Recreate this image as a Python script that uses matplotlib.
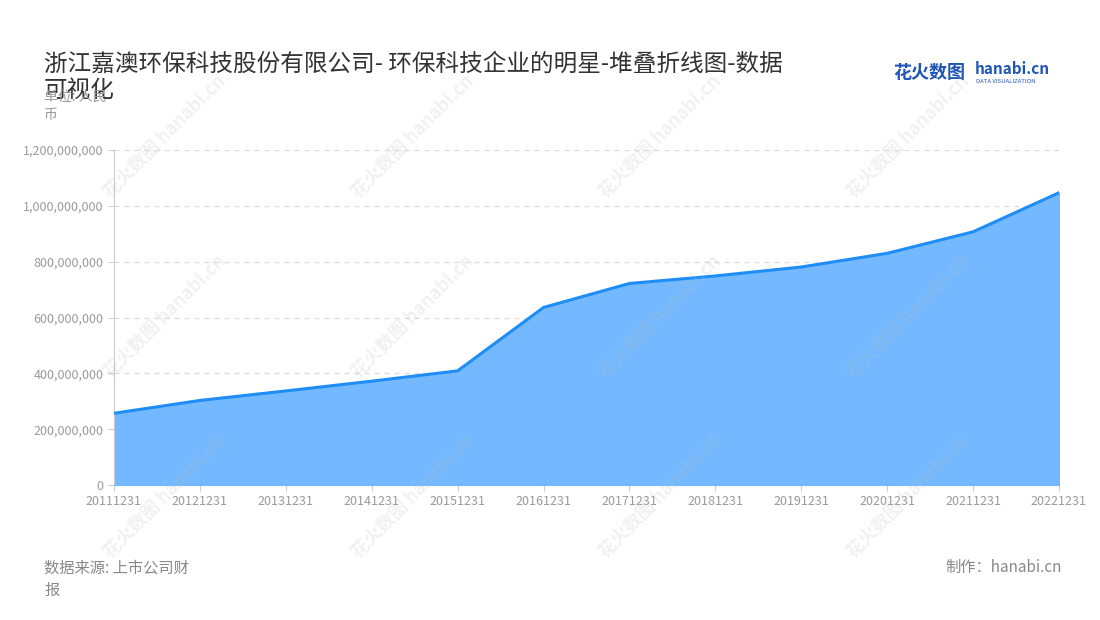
import matplotlib
matplotlib.use('Agg')
import matplotlib.pyplot as plt
from matplotlib.ticker import FuncFormatter

plt.rcParams['font.family'] = ['Noto Sans CJK SC', 'DejaVu Sans']

dates = ['20111231', '20121231', '20131231', '20141231', '20151231', '20161231',
         '20171231', '20181231', '20191231', '20201231', '20211231', '20221231']
values = [257e6, 303e6, 337e6, 372e6, 409e6, 636e6,
          722e6, 749e6, 781e6, 830e6, 907e6, 1047e6]
y_ticks = [0, 200e6, 400e6, 600e6, 800e6, 1000e6, 1200e6]

title = '浙江嘉澳环保科技股份有限公司- 环保科技企业的明星-堆叠折线图-数据\n可视化'

fig = plt.figure(figsize=(11, 6.2), dpi=100)
ax = fig.add_axes([0.1036, 0.2177, 0.8591, 0.5403])

x = list(range(len(dates)))
ax.fill_between(x, values, 0, color='#74b9ff', zorder=2)
ax.plot(x, values, color='#1e8df5', linewidth=2.2, zorder=3)

ax.set_xlim(0, len(dates) - 1)
ax.set_ylim(0, 1200e6)
ax.set_xticks(x)
ax.set_xticklabels(dates)
ax.set_yticks(y_ticks)
ax.yaxis.set_major_formatter(FuncFormatter(lambda v, p: f'{int(v):,}'))
ax.tick_params(axis='both', colors='#cccccc', labelcolor='#9a9a9a', labelsize=9, length=4)
ax.grid(axis='y', color='#dddddd', linestyle=(0, (4, 4)), linewidth=0.9, zorder=1)
for s in ['top', 'right']:
    ax.spines[s].set_visible(False)
ax.spines['left'].set_color('#cccccc')
ax.spines['bottom'].set_color('#74b9ff')

fig.text(0.04, 0.915, title, fontsize=17, color='#333333', va='top', linespacing=1.2)
fig.text(0.04, 0.855, '单位: 人民\n币', fontsize=10, color='#999999', va='top', linespacing=1.4)

fig.text(0.04, 0.098, '数据来源: 上市公司财\n报', fontsize=11, color='#888888', va='top', linespacing=1.45)
fig.text(0.965, 0.098, '制作：hanabi.cn', fontsize=11, color='#888888', va='top', ha='right')

# logo
fig.text(0.812, 0.883, '花火数图', fontsize=13, color='#1f55b5', fontweight='bold', va='center')
fig.text(0.886, 0.889, 'hanabi.cn', fontsize=11, color='#1f55b5', fontweight='bold', va='center')
fig.text(0.887, 0.868, 'DATA VISUALIZATION', fontsize=4.3, color='#1f55b5', va='center')

# watermarks
for wx in [0.15, 0.375, 0.6, 0.825]:
    for wy in [0.78, 0.49, 0.2]:
        fig.text(wx, wy, '花火数图 hanabi.cn', fontsize=13, color='#bbbbbb', alpha=0.2,
                 rotation=45, ha='center', va='center', fontweight='bold', zorder=10)

fig.savefig('out.png', dpi=100)
